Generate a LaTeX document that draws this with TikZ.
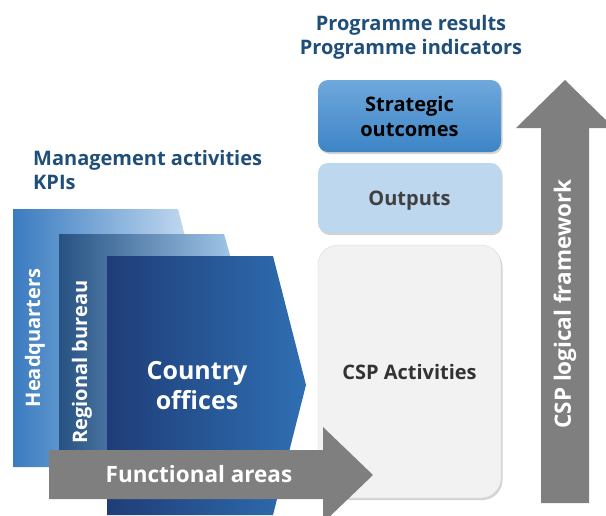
\documentclass[tikz,border=0pt]{standalone}
\usepackage{fontspec}
\setmainfont{Open Sans}
\usepackage{xcolor}
\usetikzlibrary{shadows}
\definecolor{titleblue}{RGB}{31, 78, 121}
\definecolor{hqleft}{RGB}{58, 123, 192}
\definecolor{hqright}{RGB}{192, 216, 239}
\definecolor{rbleft}{RGB}{38, 82, 130}
\definecolor{rbright}{RGB}{160, 197, 232}
\definecolor{coleft}{RGB}{31, 61, 120}
\definecolor{coright}{RGB}{47, 111, 179}
\definecolor{arrowgray}{RGB}{127, 127, 127}
\definecolor{sotop}{RGB}{111, 168, 220}
\definecolor{sobottom}{RGB}{61, 133, 198}
\definecolor{outfill}{RGB}{189, 215, 238}
\definecolor{actfill}{RGB}{242, 242, 242}
\definecolor{actdraw}{RGB}{217, 217, 217}

\begin{document}
\begin{tikzpicture}[x=1pt, y=-1pt,
  title/.style={font=\fontsize{20}{24}\selectfont\bfseries, text=titleblue, inner sep=0pt},
  vlabel/.style={font=\fontsize{20}{24}\selectfont\bfseries, text=white, rotate=90},
  resultbox/.style={minimum width=183pt, rounded corners=10pt, align=center,
    font=\fontsize{20}{25}\selectfont\bfseries,
    drop shadow={shadow xshift=1.5pt, shadow yshift=-2pt, opacity=0.35}}]
  \useasboundingbox (0,0) rectangle (606,515);

  % headings
  \node[title, align=left, anchor=west] (mgmt) at (33,170) {Management activities\\KPIs};
  \node[title, align=center] (prog) at (411,37) {Programme results\\Programme indicators};

  % headquarters, regional bureau, country offices
  \shade[left color=hqleft, right color=hqright] (13,209) -- (178,209) -- (186,240) -- (186,467) -- (13,467) -- cycle;
  \shade[left color=rbleft, right color=rbright] (59,234) -- (224,234) -- (232,262) -- (232,460) -- (59,460) -- cycle;
  \shade[left color=coleft, right color=coright] (107,256) -- (273,256) -- (306,385) -- (273,515) -- (107,515) -- cycle;
  \node[vlabel] (hq) at (35,338) {Headquarters};
  \node[vlabel] (rb) at (82,362) {Regional bureau};
  \node[font=\fontsize{25}{30}\selectfont\bfseries, text=white, align=center] (co) at (197,386) {Country\\offices};

  % programme boxes
  \node[resultbox, top color=sotop, bottom color=sobottom, minimum height=72pt, text=black] (so) at (409.5,116) {Strategic\\outcomes};
  \node[resultbox, fill=outfill, minimum height=70pt, text=black!75, text depth=0pt] (out) at (409.5,198) {Outputs};
  \node[resultbox, fill=actfill, draw=actdraw, rounded corners=20pt, minimum height=253pt, text=black!80] (act) at (409.5,371.5) {CSP Activities};

  % functional areas arrow
  \fill[arrowgray] (49,450) -- (323,450) -- (323,427) -- (373,475) -- (323,523) -- (323,499) -- (49,499) -- cycle;
  \node[font=\fontsize{22.5}{26}\selectfont\bfseries, text=white] (fa) at (199,474) {Functional areas};

  % logical framework arrow
  \fill[arrowgray] (541,503) -- (541,128) -- (516,128) -- (565,80) -- (614,128) -- (589,128) -- (589,503) -- cycle;
  \node[font=\fontsize{22.5}{26}\selectfont\bfseries, text=white, rotate=90] (csp) at (565,304) {CSP logical framework};
\end{tikzpicture}
\end{document}
